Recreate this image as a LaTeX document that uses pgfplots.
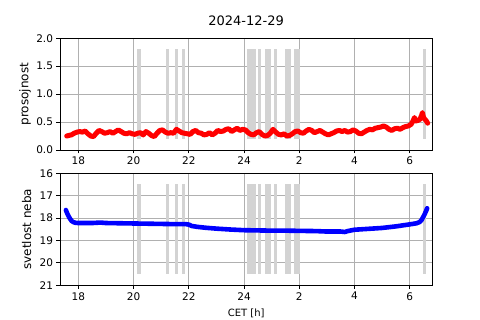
\documentclass[border=0pt]{standalone}
\usepackage{fontspec}
\setmainfont{DejaVu Sans}
\usepackage{pgfplots}
\pgfplotsset{compat=1.18}
\definecolor{cloud}{HTML}{D3D3D3}
\definecolor{gridc}{HTML}{B0B0B0}
\newcommand{\cbar}[4]{\addplot[fill=cloud, draw=none, forget plot] coordinates {(#1,#3) (#2,#3) (#2,#4) (#1,#4)} -- cycle;}
\newcommand{\allbars}[2]{%
\cbar{20.136}{20.259}{#1}{#2}
\cbar{21.164}{21.273}{#1}{#2}
\cbar{21.512}{21.620}{#1}{#2}
\cbar{21.765}{21.874}{#1}{#2}
\cbar{24.119}{24.423}{#1}{#2}
\cbar{24.495}{24.604}{#1}{#2}
\cbar{24.771}{24.966}{#1}{#2}
\cbar{25.075}{25.183}{#1}{#2}
\cbar{25.473}{25.701}{#1}{#2}
\cbar{25.799}{26.016}{#1}{#2}
\cbar{30.469}{30.589}{#1}{#2}}
\pgfplotstableread{
h v
17.58 0.25
17.65 0.26
17.75 0.27
17.85 0.30
17.95 0.32
18.05 0.33
18.15 0.32
18.25 0.34
18.35 0.29
18.45 0.25
18.55 0.24
18.65 0.30
18.75 0.35
18.85 0.33
18.95 0.30
19.05 0.31
19.15 0.33
19.25 0.30
19.35 0.33
19.45 0.36
19.55 0.33
19.65 0.30
19.75 0.29
19.85 0.31
19.95 0.29
20.05 0.28
20.15 0.30
20.25 0.31
20.35 0.27
20.45 0.33
20.55 0.30
20.65 0.26
20.75 0.24
20.85 0.30
20.95 0.35
21.05 0.36
21.15 0.32
21.25 0.30
21.35 0.31
21.45 0.30
21.55 0.37
21.65 0.34
21.75 0.31
21.85 0.30
21.95 0.29
22.05 0.28
22.15 0.33
22.25 0.35
22.35 0.31
22.45 0.30
22.55 0.27
22.65 0.28
22.75 0.31
22.85 0.27
22.95 0.30
23.05 0.35
23.15 0.33
23.25 0.34
23.35 0.37
23.45 0.38
23.55 0.33
23.65 0.36
23.75 0.39
23.85 0.35
23.95 0.37
24.05 0.36
24.15 0.31
24.25 0.28
24.35 0.27
24.45 0.31
24.55 0.33
24.65 0.28
24.75 0.25
24.85 0.26
24.95 0.30
25.05 0.37
25.15 0.32
25.25 0.28
25.35 0.27
25.45 0.29
25.55 0.25
25.65 0.26
25.75 0.29
25.85 0.33
25.95 0.34
26.05 0.31
26.15 0.30
26.25 0.34
26.35 0.37
26.45 0.35
26.55 0.31
26.65 0.33
26.75 0.35
26.85 0.32
26.95 0.29
27.05 0.27
27.15 0.29
27.25 0.31
27.35 0.34
27.45 0.35
27.55 0.33
27.65 0.35
27.75 0.32
27.85 0.33
27.95 0.36
28.05 0.34
28.15 0.30
28.25 0.29
28.35 0.32
28.45 0.35
28.55 0.37
28.65 0.36
28.75 0.39
28.85 0.40
28.95 0.41
29.05 0.43
29.15 0.41
29.25 0.37
29.35 0.35
29.45 0.38
29.55 0.39
29.65 0.37
29.75 0.40
29.85 0.42
29.95 0.43
30.05 0.46
30.12 0.52
30.17 0.58
30.22 0.52
30.30 0.53
30.37 0.55
30.43 0.62
30.46 0.67
30.50 0.58
30.55 0.55
30.60 0.52
30.65 0.48
}\transp
\pgfplotstableread{
h v
17.55 17.64
17.60 17.80
17.65 17.92
17.70 18.03
17.76 18.13
17.82 18.18
17.90 18.21
18.00 18.22
18.50 18.22
18.80 18.20
19.00 18.22
19.50 18.23
20.00 18.24
20.50 18.25
21.00 18.26
21.50 18.27
21.90 18.27
22.00 18.29
22.10 18.35
22.30 18.39
22.60 18.43
23.00 18.47
23.50 18.51
24.00 18.54
24.50 18.55
25.00 18.56
25.50 18.56
26.00 18.57
26.60 18.58
27.00 18.60
27.50 18.60
27.65 18.62
27.75 18.58
28.00 18.52
28.50 18.48
29.00 18.44
29.50 18.37
30.00 18.28
30.25 18.23
30.35 18.18
30.43 18.08
30.50 17.92
30.55 17.80
30.60 17.66
30.63 17.56
}\sky
\pgfplotsset{
  myax/.style={
    scale only axis, width=372.3pt, xmin=17.337, xmax=30.817,
    xtick={18,20,22,24,26,28,30}, xticklabels={18,20,22,24,2,4,6},
    grid=major, grid style={color=gridc, line width=0.8pt},
    axis line style={line width=0.8pt},
    tick align=outside, major tick length=3.5pt,
    tick style={black, line width=0.8pt},
    xtick pos=left, ytick pos=left,
    ticklabel style={font=\fontsize{10.5}{12}\selectfont},
    /pgf/number format/assume math mode=true,
    ylabel style={font=\fontsize{12}{14}\selectfont, anchor=center},
  }
}
\begin{document}
\begin{tikzpicture}
\path[use as bounding box] (0,0) rectangle (480pt,320pt);
\begin{axis}[myax, at={(60pt,170pt)}, anchor=south west, height=111.7pt,
  ymin=0, ymax=2, ytick={0,0.5,1,1.5,2},
  yticklabel style={/pgf/number format/.cd, fixed, fixed zerofill, precision=1},
  ylabel={prosojnost},
  ylabel style={at={(axis description cs:-0.094,0.5)}},
  title={2024-12-29},
  title style={font=\fontsize{13}{15}\selectfont, at={(axis description cs:0.5,1)}, anchor=base, yshift=6.3pt},
]
\allbars{0.2}{1.8}
\addplot[red, line width=5pt, line cap=round, line join=round] table[x=h, y=v] {\transp};
\end{axis}
\begin{axis}[myax, at={(60pt,34.7pt)}, anchor=south west, height=112pt,
  ymin=16, ymax=21, ytick={16,17,18,19,20,21}, y dir=reverse,
  ylabel={svetlost neba},
  ylabel style={at={(axis description cs:-0.0895,0.5)}},
  xlabel={CET [h]},
  xlabel style={font=\fontsize{10}{12}\selectfont, at={(axis description cs:0.5,-0.283)}, anchor=base},
]
\allbars{16.5}{20.5}
\addplot[blue, line width=4.6pt, line cap=round, line join=round] table[x=h, y=v] {\sky};
\end{axis}
\end{tikzpicture}
\end{document}
